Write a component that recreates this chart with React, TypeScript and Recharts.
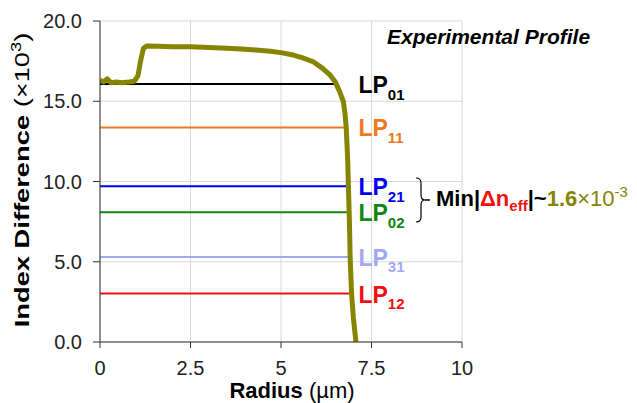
import React from 'react';
import { ComposedChart, Line, Scatter, XAxis, YAxis, CartesianGrid } from 'recharts';

const FONT = '"Liberation Sans", Arial, sans-serif';

// measured index profile (radius in µm, index difference x10^3)
const profileR = [0, 0.1, 0.2, 0.3, 0.45, 0.6, 0.8, 0.95, 1.05, 1.12, 1.2, 1.3, 1.6, 2.0, 2.5, 3.0, 3.5, 3.9, 4.3, 4.7, 5.0, 5.3, 5.6, 5.9, 6.15, 6.35, 6.5, 6.62, 6.72, 6.77, 6.8, 6.84, 6.86, 6.89, 6.91, 6.95, 7.0, 7.07];
const profileV = [16.3, 16.2, 16.4, 16.15, 16.2, 16.15, 16.2, 16.25, 16.6, 17.5, 18.3, 18.45, 18.42, 18.4, 18.4, 18.35, 18.3, 18.25, 18.2, 18.12, 18.03, 17.9, 17.7, 17.45, 17.05, 16.65, 16.2, 15.6, 15.0, 14.2, 13.4, 11.5, 9.9, 7.5, 5.3, 3.0, 1.5, 0];

// LP mode effective index levels
const modeNames = ['01', '11', '21', '02', '31', '12'];
const modeLevels = [16.07, 13.37, 9.71, 8.09, 5.3, 3.02];
const modeEnds = [6.5, 6.78, 6.85, 6.87, 6.9, 6.94];
const modeColors = ['#000000', '#F07820', '#0000F0', '#128512', '#A3A8F5', '#F01010'];
const labelR = 7.14;

const xTicks = [0, 2.5, 5, 7.5, 10];
const yTicks = [0, 5, 10, 15, 20];

const profile = profileR.map((r, i) => ({ r, v: profileV[i] }));
const modes = modeNames.map((name, i) => ({
  name,
  color: modeColors[i],
  data: [{ r: 0, v: modeLevels[i] }, { r: modeEnds[i], v: modeLevels[i] }],
}));
const labelPts = modeNames.map((name, i) => ({ r: labelR, v: modeLevels[i], name, color: modeColors[i] }));

const ModeLabel = (p: any) => (
  <text x={p.cx} y={p.cy + 9} fill={p.payload.color} fontFamily={FONT} fontWeight="bold" fontSize={23}>
    LP<tspan fontSize={15} dy={6.5}>{p.payload.name}</tspan>
  </text>
);

export default function App() {
  return (
    <div style={{ position: 'absolute', left: 0, top: 0, width: 637, height: 403, background: '#fff', fontFamily: FONT }}>
      <ComposedChart width={637} height={403} margin={{ top: 21, right: 175, bottom: 31, left: 40 }}>
        <CartesianGrid stroke="#d9d9d9" />
        <XAxis
          type="number"
          dataKey="r"
          domain={[0, 10]}
          ticks={xTicks}
          allowDataOverflow
          stroke="#333"
          tickSize={6}
          tickMargin={13}
          height={30}
          tick={{ fill: '#222', fontSize: 20, fontFamily: FONT }}
        />
        <YAxis
          type="number"
          dataKey="v"
          domain={[0, 20]}
          ticks={yTicks}
          width={60}
          stroke="#333"
          tickSize={7}
          tickMargin={11}
          tickFormatter={(v: number) => v.toFixed(1)}
          tick={{ fill: '#222', fontSize: 20, fontFamily: FONT }}
        />
        {modes.map((m) => (
          <Line
            key={m.name}
            data={m.data}
            dataKey="v"
            stroke={m.color}
            strokeWidth={2}
            dot={false}
            isAnimationActive={false}
          />
        ))}
        <Line
          data={profile}
          dataKey="v"
          stroke="#858500"
          strokeWidth={5}
          strokeLinejoin="round"
          dot={false}
          isAnimationActive={false}
        />
        <Scatter data={labelPts} dataKey="v" shape={ModeLabel} isAnimationActive={false} />
      </ComposedChart>
      <svg width={637} height={403} style={{ position: 'absolute', left: 0, top: 0, pointerEvents: 'none' }}>
        <text x={387} y={44} fontFamily={FONT} fontSize={21} fontWeight="bold" fontStyle="italic" fill="#000">
          Experimental Profile
        </text>
        <path d="M416 178 Q421 178 421 183 L421 195 Q421 200 425 200 Q421 200 421 205 L421 217 Q421 222 416 222" fill="none" stroke="#000" strokeWidth={1.2} />
        <line x1={425} y1={200} x2={430} y2={200} stroke="#000" strokeWidth={1.5} />
        <text x={436} y={206} fontFamily={FONT} fontSize={22} fontWeight="bold" fill="#000">
          Min|<tspan fill="#F01010">Δn</tspan>
          <tspan fill="#F01010" fontSize={15} dy={5}>eff</tspan>
          <tspan dy={-5}>|~</tspan>
          <tspan fill="#858500">1.6</tspan>
          <tspan fill="#858500" fontWeight="normal">×10</tspan>
          <tspan fill="#858500" fontWeight="normal" fontSize={15} dy={-9}>-3</tspan>
        </text>
        <text x={292} y={398} textAnchor="middle" fontFamily={FONT} fontSize={22} fill="#000">
          <tspan fontWeight="bold">Radius</tspan> (µm)
        </text>
        <text transform="translate(28.5,180) rotate(-90) scale(1.3,1)" textAnchor="middle" fontFamily={FONT} fontSize={21} fill="#000">
          <tspan fontWeight="bold">Index Difference</tspan> (×10<tspan fontSize={14} dy={-8}>3</tspan><tspan dy={8}>)</tspan>
        </text>
      </svg>
    </div>
  );
}
